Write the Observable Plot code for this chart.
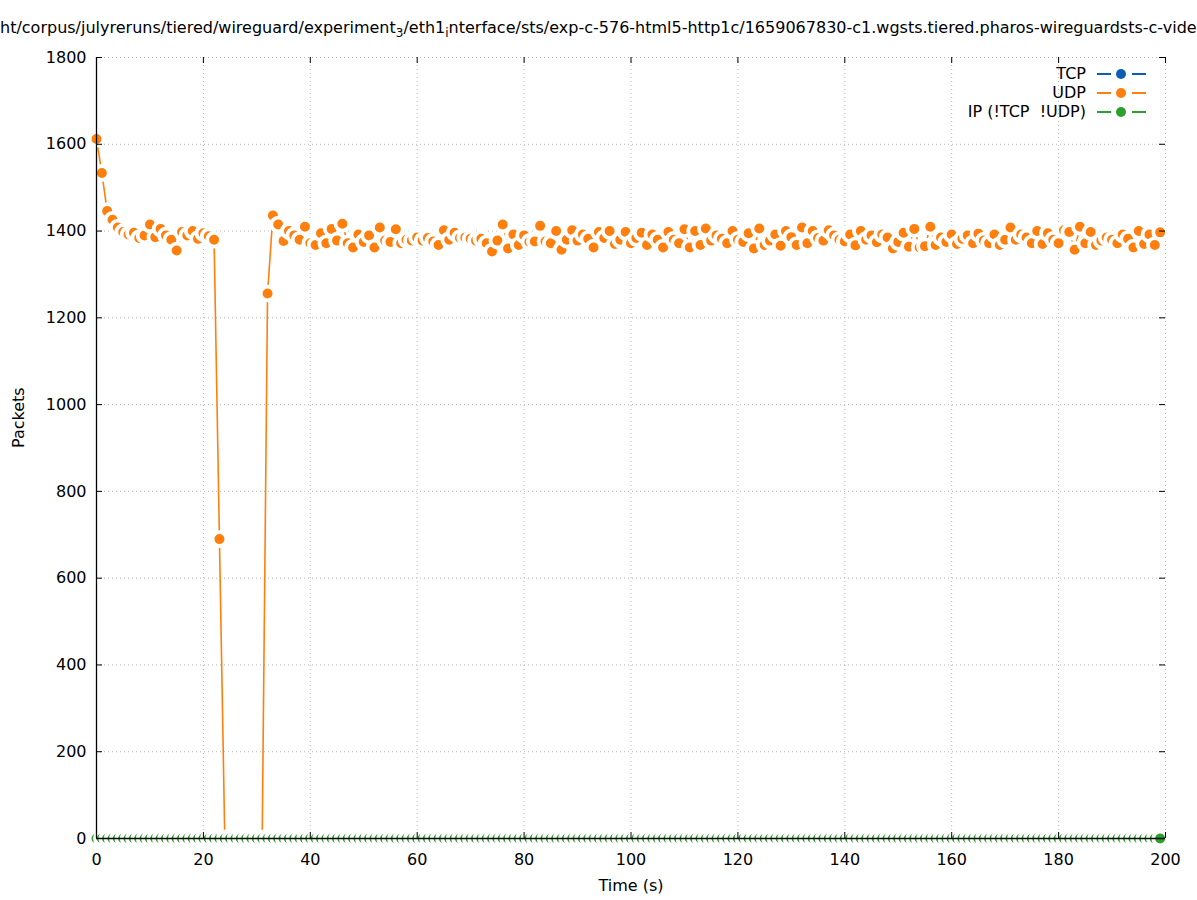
<!DOCTYPE html>
<html>
<head>
<meta charset="utf-8">
<script src="https://cdn.jsdelivr.net/npm/d3@7"></script>
<script src="https://cdn.jsdelivr.net/npm/@observablehq/plot@0.6"></script>
<style>
  html, body { margin: 0; padding: 0; background: #fff; }
  #wrap { position: relative; width: 1197px; height: 900px; overflow: hidden; font-family: "DejaVu Sans", sans-serif; color: #000; }
  #chart { position: absolute; left: 0; top: 0; }
  #title { position: absolute; left: 0; top: 19.5px; font-size: 16px; line-height: 16px; white-space: nowrap; }
  #title .sub { position: relative; top: 4px; font-size: 12px; }
  .leg { position: absolute; font-size: 16px; line-height: 16px; white-space: pre; }
  .legtxt { text-align: right; right: 111px; }
  .legsym { left: 1097px; display: flex; align-items: center; height: 16px; }
  .legsym .ln { width: 14px; height: 2px; }
  .legsym .dt { width: 10px; height: 10px; border-radius: 50%; margin: 0 6px 0 5px; }
</style>
</head>
<body>
<div id="wrap">
  <div id="chart"></div>
  <div id="title">ht/corpus/julyreruns/tiered/wireguard/experiment<span class="sub">3</span>/eth1<span class="sub">i</span>nterface/sts/exp-c-576-html5-http1c/1659067830-c1.wgsts.tiered.pharos-wireguardsts-c-vide</div>
  <div id="legend"></div>
</div>
<script>
// ---- data ----
const time = [0,1,2,3,4,5,6,7,8,9,10,11,12,13,14,15,16,17,18,19,20,21,22,23,24,25,26,27,28,29,30,31,32,33,34,35,36,37,38,39,40,41,42,43,44,45,46,47,48,49,50,51,52,53,54,55,56,57,58,59,60,61,62,63,64,65,66,67,68,69,70,71,72,73,74,75,76,77,78,79,80,81,82,83,84,85,86,87,88,89,90,91,92,93,94,95,96,97,98,99,100,101,102,103,104,105,106,107,108,109,110,111,112,113,114,115,116,117,118,119,120,121,122,123,124,125,126,127,128,129,130,131,132,133,134,135,136,137,138,139,140,141,142,143,144,145,146,147,148,149,150,151,152,153,154,155,156,157,158,159,160,161,162,163,164,165,166,167,168,169,170,171,172,173,174,175,176,177,178,179,180,181,182,183,184,185,186,187,188,189,190,191,192,193,194,195,196,197,198,199];

const udp = [1612,1534,1446,1426,1408,1398,1392,1396,1384,1390,
1415,1386,1405,1390,1380,1355,1398,1390,1400,1382,
1395,1388,1380,690,0,0,0,0,0,0,
0,0,1256,1436,1415,1377,1400,1390,1380,1410,
1372,1368,1395,1372,1405,1378,1417,1372,1362,1392,
1375,1390,1362,1408,1378,1375,1404,1372,1380,1378,
1385,1378,1384,1376,1368,1402,1380,1396,1384,1385,
1382,1378,1382,1372,1353,1378,1415,1360,1392,1368,
1390,1375,1376,1412,1376,1372,1400,1357,1380,1402,
1378,1392,1382,1362,1398,1384,1400,1370,1380,1398,
1372,1384,1396,1368,1392,1380,1362,1398,1380,1372,
1404,1362,1400,1368,1406,1378,1390,1382,1372,1400,
1380,1375,1395,1360,1406,1368,1378,1392,1366,1400,
1386,1368,1408,1372,1400,1384,1378,1402,1390,1380,
1376,1392,1367,1400,1380,1390,1374,1392,1385,1360,
1375,1396,1364,1405,1362,1365,1410,1368,1385,1375,
1392,1370,1382,1390,1372,1394,1378,1372,1392,1368,
1380,1408,1380,1392,1385,1372,1400,1370,1395,1380,
1372,1402,1398,1357,1410,1372,1398,1368,1378,1385,
1380,1372,1392,1382,1362,1400,1370,1392,1368,1397];

const tcp = [0,0,0,0,0,0,0,0,0,0,0,0,0,0,0,0,0,0,0,0,0,0,0,0,0,0,0,0,0,0,0,0,0,0,0,0,0,0,0,0,0,0,0,0,0,0,0,0,0,0,0,0,0,0,0,0,0,0,0,0,0,0,0,0,0,0,0,0,0,0,0,0,0,0,0,0,0,0,0,0,0,0,0,0,0,0,0,0,0,0,0,0,0,0,0,0,0,0,0,0,0,0,0,0,0,0,0,0,0,0,0,0,0,0,0,0,0,0,0,0,0,0,0,0,0,0,0,0,0,0,0,0,0,0,0,0,0,0,0,0,0,0,0,0,0,0,0,0,0,0,0,0,0,0,0,0,0,0,0,0,0,0,0,0,0,0,0,0,0,0,0,0,0,0,0,0,0,0,0,0,0,0,0,0,0,0,0,0,0,0,0,0,0,0,0,0,0,0,0,0];

const ip = [0,0,0,0,0,0,0,0,0,0,0,0,0,0,0,0,0,0,0,0,0,0,0,0,0,0,0,0,0,0,0,0,0,0,0,0,0,0,0,0,0,0,0,0,0,0,0,0,0,0,0,0,0,0,0,0,0,0,0,0,0,0,0,0,0,0,0,0,0,0,0,0,0,0,0,0,0,0,0,0,0,0,0,0,0,0,0,0,0,0,0,0,0,0,0,0,0,0,0,0,0,0,0,0,0,0,0,0,0,0,0,0,0,0,0,0,0,0,0,0,0,0,0,0,0,0,0,0,0,0,0,0,0,0,0,0,0,0,0,0,0,0,0,0,0,0,0,0,0,0,0,0,0,0,0,0,0,0,0,0,0,0,0,0,0,0,0,0,0,0,0,0,0,0,0,0,0,0,0,0,0,0,0,0,0,0,0,0,0,0,0,0,0,0,0,0,0,0,0,0];

const seriesNames = ["TCP", "UDP", "IP (!TCP  !UDP)"];
const seriesColors = ["#0a5fb4", "#ff7f0e", "#2ca02c"];
const xTicks = [0,20,40,60,80,100,120,140,160,180,200];
const yTicks = [0,200,400,600,800,1000,1200,1400,1600,1800];

// ---- build ----
const seriesValues = [tcp, udp, ip];
const tables = seriesValues.map(vals => time.map((t, i) => ({t, v: vals[i]})));

const W = 1197, H = 900, mL = 96, mR = 32, mT = 57, mB = 62;
const fw = W - mL - mR, fh = H - mT - mB, tick = 6;

const marks = [
  Plot.gridX(xTicks, {stroke: "#9a9a9a", strokeOpacity: 0.7, strokeDasharray: "1,3", strokeWidth: 1}),
  Plot.gridY(yTicks, {stroke: "#9a9a9a", strokeOpacity: 0.7, strokeDasharray: "1,3", strokeWidth: 1})
];
tables.forEach((tab, k) => {
  marks.push(Plot.line(tab, {x: "t", y: "v", stroke: seriesColors[k], strokeWidth: 1.6}));
  marks.push(Plot.dot(tab, {x: "t", y: "v", r: 6.9, fill: seriesColors[k], stroke: "white", strokeWidth: 3.8}));
});
marks.push(
  Plot.tickY(yTicks, {stroke: "black", insetRight: fw - tick}),
  Plot.tickY(yTicks, {stroke: "black", insetLeft: fw - tick}),
  Plot.tickX(xTicks, {stroke: "black", insetTop: fh - tick}),
  Plot.tickX(xTicks, {stroke: "black", insetBottom: fh - tick}),
  Plot.ruleX([0], {stroke: "black", strokeWidth: 1.3}),
  Plot.ruleY([0], {stroke: "black", strokeWidth: 1.3}),
  Plot.axisX({ticks: xTicks, tickSize: 0, tickPadding: 15, label: null, fontSize: 16, tickFormat: d3.format("d")}),
  Plot.axisY({ticks: yTicks, tickSize: 0, tickPadding: 10, label: null, fontSize: 16, tickFormat: d3.format("d")}),
  Plot.text(["Time (s)"], {frameAnchor: "bottom", dy: 52, fontSize: 16}),
  Plot.text(["Packets"], {frameAnchor: "left", dx: -78, rotate: -90, fontSize: 16})
);

const chart = Plot.plot({
  width: W, height: H,
  marginLeft: mL, marginRight: mR, marginTop: mT, marginBottom: mB,
  style: {fontFamily: "DejaVu Sans", fontSize: "16px", color: "black", background: "white", overflow: "visible"},
  x: {domain: [0, 200], axis: null},
  y: {domain: [0, 1800], axis: null},
  marks
});
document.getElementById("chart").appendChild(chart);

// ---- legend ----
const legend = document.getElementById("legend");
const rowCenters = [74, 93, 112];
seriesNames.forEach((name, k) => {
  const txt = document.createElement("div");
  txt.className = "leg legtxt";
  txt.style.top = (rowCenters[k] - 7.7) + "px";
  txt.textContent = name;
  legend.appendChild(txt);
  const sym = document.createElement("div");
  sym.className = "leg legsym";
  sym.style.top = (rowCenters[k] - 8) + "px";
  sym.innerHTML = `<span class="ln" style="background:${seriesColors[k]}"></span><span class="dt" style="background:${seriesColors[k]}"></span><span class="ln" style="background:${seriesColors[k]}"></span>`;
  legend.appendChild(sym);
});
</script>
</body>
</html>
